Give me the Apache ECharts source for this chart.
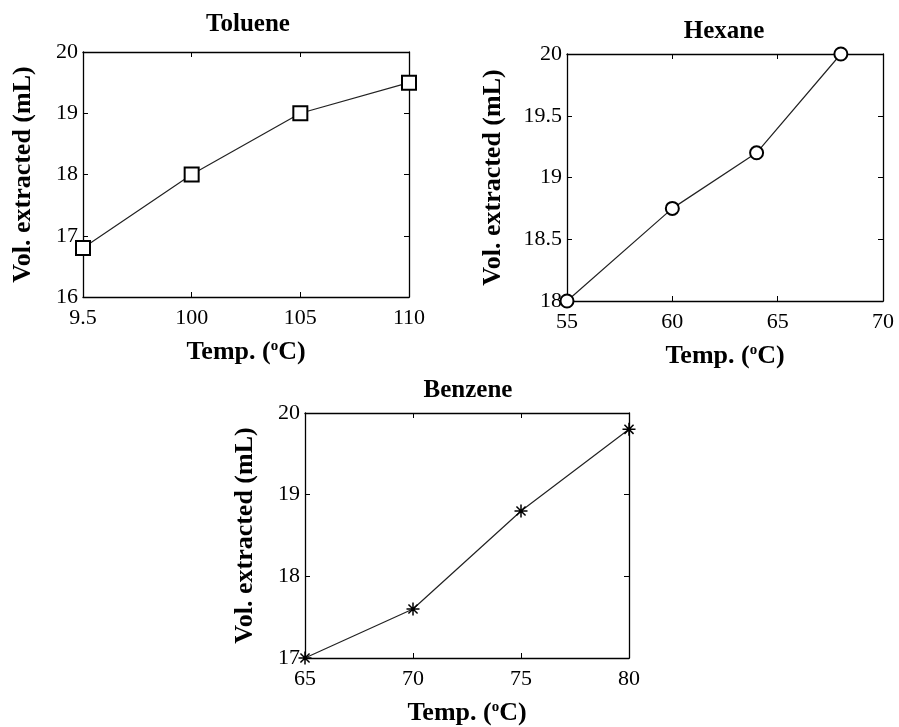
<!DOCTYPE html>
<html>
<head>
    <meta charset="utf-8">
    <title>Vol. extracted vs Temp.</title>
    <script src="https://cdn.jsdelivr.net/npm/echarts@6/dist/echarts.min.js"></script>
    <style>
        html, body { margin: 0; padding: 0; background: #fff; }
        #main { width: 899px; height: 727px; }
    </style>
</head>
<body>
<div id="main"></div>
<script>
    // data
    var tolueneTemp = [95, 100, 105, 110];
    var tolueneVol = [16.8, 18.0, 19.0, 19.5];
    var hexaneTemp = [55, 60, 64, 68];
    var hexaneVol = [18.0, 18.75, 19.2, 20.0];
    var benzeneTemp = [65, 70, 75, 80];
    var benzeneVol = [17.0, 17.6, 18.8, 19.8];

    // tick labels (the toluene plot prints "9.5" for 95)
    var tolueneXTicks = [95, 100, 105, 110];
    var tolueneXLabels = ['9.5', '100', '105', '110'];

    var serif = 'Liberation Serif';
    var ylabel = 'Vol. extracted (mL)';
    var xlabel = 'Temp. ({sup|o}C)';

    // grids: toluene, hexane, benzene
    var grids = [
        {left: 83, top: 52, width: 326, height: 245},
        {left: 567, top: 54, width: 316, height: 247},
        {left: 305, top: 413, width: 324, height: 246}
    ];
    var xr = [[95, 110], [55, 70], [65, 80]];
    var yr = [[16, 20, 1], [18, 20, 0.5], [17, 20, 1]];
    var yGap = [47, 61, 47];

    function pairs(xs, ys) {
        var out = [];
        for (var i = 0; i < xs.length; i++) out.push([xs[i], ys[i]]);
        return out;
    }

    var lineStyle = {color: '#000', width: 1.3};
    var tick = {show: true, inside: true, length: 5, lineStyle: {color: '#000', width: 1}};
    var nameStyle = {
        fontFamily: serif, fontWeight: 'bold', fontSize: 26, color: '#000',
        rich: {sup: {fontFamily: serif, fontWeight: 'bold', fontSize: 15, verticalAlign: 'top', padding: [0, 0, 10, 0]}}
    };

    var xAxes = [], yAxes = [];
    for (var g = 0; g < 3; g++) {
        xAxes.push({
            type: 'value', gridIndex: g, position: 'bottom',
            min: xr[g][0], max: xr[g][1], interval: 5,
            name: xlabel, nameLocation: 'middle', nameGap: 42, nameTextStyle: nameStyle,
            axisLine: {show: true, lineStyle: lineStyle},
            axisTick: tick, splitLine: {show: false},
            axisLabel: {
                fontFamily: serif, fontSize: 22, color: '#000', margin: 10,
                formatter: g === 0 ? function (v) {
                    var i = tolueneXTicks.indexOf(v);
                    return i >= 0 ? tolueneXLabels[i] : String(v);
                } : null
            }
        });
        xAxes.push({
            type: 'value', gridIndex: g, position: 'top',
            min: xr[g][0], max: xr[g][1], interval: 5,
            axisLine: {show: true, lineStyle: lineStyle},
            axisTick: tick, splitLine: {show: false}, axisLabel: {show: false}
        });
        yAxes.push({
            type: 'value', gridIndex: g, position: 'left',
            min: yr[g][0], max: yr[g][1], interval: yr[g][2],
            name: ylabel, nameLocation: 'middle', nameGap: yGap[g], nameTextStyle: nameStyle,
            axisLine: {show: true, lineStyle: lineStyle},
            axisTick: tick, splitLine: {show: false},
            axisLabel: {fontFamily: serif, fontSize: 22, color: '#000', margin: 5}
        });
        yAxes.push({
            type: 'value', gridIndex: g, position: 'right',
            min: yr[g][0], max: yr[g][1], interval: yr[g][2],
            axisLine: {show: true, lineStyle: lineStyle},
            axisTick: tick, splitLine: {show: false}, axisLabel: {show: false}
        });
    }

    var serieLine = {color: '#222', width: 1.2};
    var titleStyle = {fontFamily: serif, fontWeight: 'bold', fontSize: 25, color: '#000'};

    var myChart = echarts.init(document.getElementById('main'));
    var option = {
        animation: false,
        backgroundColor: '#fff',
        title: [
            {text: 'Toluene', left: 243, top: 7, textAlign: 'center', textStyle: titleStyle},
            {text: 'Hexane', left: 719, top: 14, textAlign: 'center', textStyle: titleStyle},
            {text: 'Benzene', left: 463, top: 373, textAlign: 'center', textStyle: titleStyle}
        ],
        grid: grids,
        xAxis: xAxes,
        yAxis: yAxes,
        series: [
            {
                name: 'Toluene', type: 'line', xAxisIndex: 0, yAxisIndex: 0,
                data: pairs(tolueneTemp, tolueneVol),
                symbol: 'emptyRect', symbolSize: 14,
                lineStyle: serieLine,
                itemStyle: {color: '#000', borderWidth: 1.5}
            },
            {
                name: 'Hexane', type: 'line', xAxisIndex: 2, yAxisIndex: 2,
                data: pairs(hexaneTemp, hexaneVol),
                symbol: 'emptyCircle', symbolSize: 13,
                lineStyle: serieLine,
                itemStyle: {color: '#000', borderWidth: 1.5}
            },
            {
                name: 'Benzene', type: 'line', xAxisIndex: 4, yAxisIndex: 4,
                data: pairs(benzeneTemp, benzeneVol),
                symbol: 'path://M0,5L10,5M5,0L5,10M1.5,1.5L8.5,8.5M8.5,1.5L1.5,8.5', symbolSize: 13,
                symbolKeepAspect: true,
                lineStyle: serieLine,
                itemStyle: {color: '#000', borderColor: '#000', borderWidth: 1.5}
            }
        ]
    };
    myChart.setOption(option);
</script>
</body>
</html>
